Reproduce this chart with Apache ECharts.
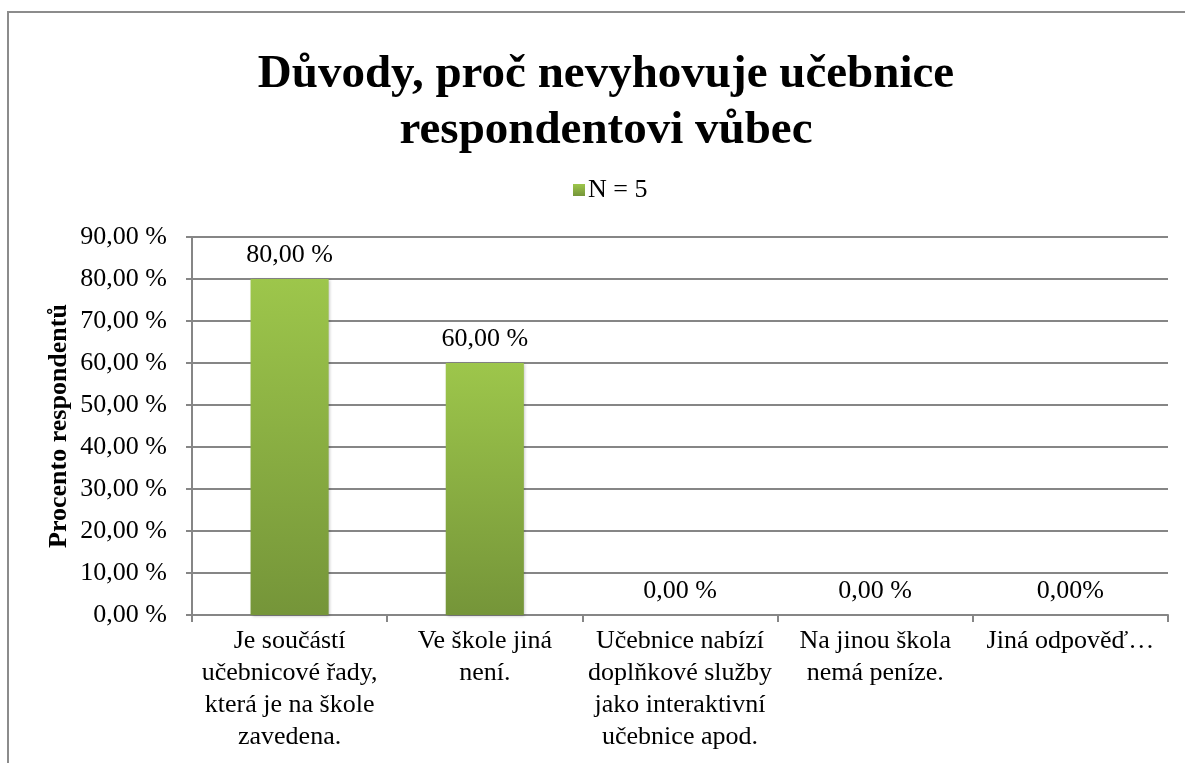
<!DOCTYPE html>
<html>
<head>
<meta charset="utf-8">
<script src="https://cdn.jsdelivr.net/npm/echarts@6/dist/echarts.min.js"></script>
<style>
  html, body { margin: 0; padding: 0; background: #fff; }
  #chart { width: 1185px; height: 763px; }
</style>
</head>
<body>
<div id="chart"></div>
<script>
// data
const categories = [
  'Je součástí\nučebnicové řady,\nkterá je na škole\nzavedena.',
  'Ve škole jiná\nnení.',
  'Učebnice nabízí\ndoplňkové služby\njako interaktivní\nučebnice apod.',
  'Na jinou škola\nnemá peníze.',
  'Jiná odpověď…'
]
const values = [80, 60, 0, 0, 0]
const valueLabels = ['80,00 %', '60,00 %', '0,00 %', '0,00 %', '0,00%']
const seriesName = 'N = 5'

const serif = '"Liberation Serif", "DejaVu Serif", serif'
const gridColor = '#868686'

const chart = echarts.init(document.getElementById('chart'))

const option = {
  animation: false,
  textStyle: { fontFamily: serif, color: '#000' },
  title: {
    text: 'Důvody, proč nevyhovuje učebnice\nrespondentovi vůbec',
    left: 601,
    textAlign: 'center',
    top: 42,
    textStyle: {
      fontFamily: serif,
      fontSize: 47,
      fontWeight: 'bold',
      lineHeight: 56,
      color: '#000'
    }
  },
  legend: {
    top: 172,
    left: 568,
    icon: 'rect',
    itemWidth: 12,
    itemHeight: 12,
    itemGap: 6,
    textStyle: { fontFamily: serif, fontSize: 26, color: '#000', padding: [0, 0, 0, -2] },
    data: [seriesName]
  },
  graphic: [{
    type: 'polyline',
    silent: true,
    shape: { points: [[8, 780], [8, 12], [1190, 12]] },
    style: { stroke: '#8c8c8c', lineWidth: 2, fill: null }
  }],
  grid: { left: 192, right: 17, top: 237, bottom: 148 },
  xAxis: {
    type: 'category',
    data: categories,
    axisLine: { lineStyle: { color: gridColor, width: 2 } },
    axisTick: { show: true, length: 7, lineStyle: { color: gridColor, width: 2 } },
    axisLabel: {
      interval: 0,
      margin: 10,
      fontFamily: serif,
      fontSize: 26,
      lineHeight: 32,
      color: '#000'
    }
  },
  yAxis: {
    type: 'value',
    min: 0,
    max: 90,
    interval: 10,
    name: 'Procento respondentů',
    nameLocation: 'middle',
    nameGap: 120,
    nameMoveOverlap: false,
    nameTextStyle: { fontFamily: serif, fontSize: 26, fontWeight: 'bold', color: '#000' },
    axisLine: { show: true, lineStyle: { color: gridColor, width: 2 } },
    axisTick: { show: true, length: 6, lineStyle: { color: gridColor, width: 2 } },
    splitLine: { lineStyle: { color: gridColor, width: 2 } },
    axisLabel: {
      margin: 25,
      fontFamily: serif,
      fontSize: 26,
      color: '#000',
      formatter: v => v.toFixed(2).replace('.', ',') + ' %'
    }
  },
  series: [{
    name: seriesName,
    type: 'bar',
    barWidth: '40%',
    data: values,
    itemStyle: {
      color: new echarts.graphic.LinearGradient(0, 0, 0, 1, [
        { offset: 0, color: '#9dc64b' },
        { offset: 1, color: '#759539' }
      ]),
      shadowColor: 'rgba(0,0,0,0.25)',
      shadowBlur: 3,
      shadowOffsetX: 1,
      shadowOffsetY: 1
    },
    label: {
      show: true,
      position: 'top',
      distance: 11,
      fontFamily: serif,
      fontSize: 26,
      color: '#000',
      formatter: p => valueLabels[p.dataIndex]
    }
  }]
}

chart.setOption(option)
</script>
</body>
</html>
